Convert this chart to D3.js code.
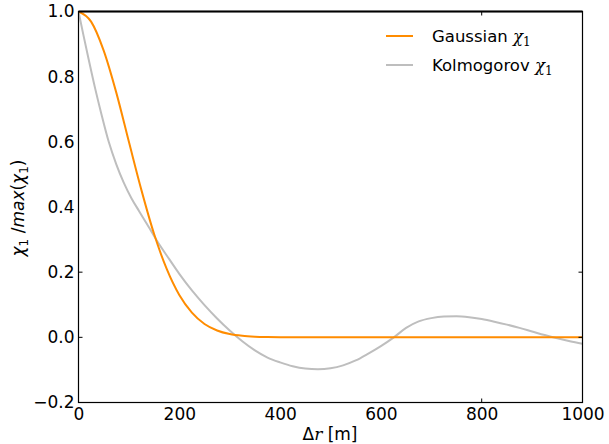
<!DOCTYPE html>
<html><head><meta charset="utf-8">
<script src="https://cdn.jsdelivr.net/npm/d3@7"></script>
<style>body{margin:0;background:#fff}svg{display:block}text{font-family:"DejaVu Sans",sans-serif}</style>
</head><body><svg id="c" width="609" height="444"></svg>
<script>
const xTicks = [0, 200, 400, 600, 800, 1000];
const yTicks = [-0.2, 0.0, 0.2, 0.4, 0.6, 0.8, 1.0];
const gaussR = [0,25,50,75,100,125,150,175,200,225,250,275,300,325,350,375,400,450,500,600,700,800,900,1000];
const gaussV = [1.0,0.969,0.880,0.751,0.600,0.451,0.317,0.210,0.130,0.076,0.041,0.021,0.010,0.0045,0.0019,0.0008,0.0003,0,0,0,0,0,0,0];
const kolR = [0,10,20,33,45,60,75,90,105,120,140,155,180,200,225,250,275,300,325,350,375,400,425,450,475,500,525,550,575,600,625,650,675,700,725,750,775,800,825,850,875,900,925,950,975,1000];
const kolV = [1.0,0.926,0.854,0.764,0.688,0.600,0.531,0.474,0.427,0.388,0.337,0.298,0.240,0.195,0.144,0.099,0.058,0.021,-0.012,-0.040,-0.062,-0.077,-0.089,-0.096,-0.098,-0.095,-0.086,-0.071,-0.050,-0.027,-0.001,0.029,0.049,0.059,0.064,0.065,0.062,0.056,0.048,0.039,0.029,0.018,0.007,-0.003,-0.012,-0.020];
const seriesNames = ["Gaussian ", "Kolmogorov "];
const colors = ["#ff8c00", "#bebebe"];

const L = 78.5, R = 582.5, T = 11.5, B = 402.5;
const svg = d3.select("#c");
const x = d3.scaleLinear().domain([0, 1000]).range([L, R]);
const y = d3.scaleLinear().domain([-0.2, 1.0]).range([B, T]);

svg.append("clipPath").attr("id","cp").append("rect")
  .attr("x", L).attr("y", T).attr("width", R-L).attr("height", B-T);

const line = d3.line().x(d => x(d[0])).y(d => y(d[1])).curve(d3.curveMonotoneX);
const g = svg.append("g").attr("clip-path","url(#cp)");
g.append("path").datum(kolR.map((r,i)=>[r,kolV[i]])).attr("d", line)
  .attr("fill","none").attr("stroke",colors[1]).attr("stroke-width",2);
g.append("path").datum(gaussR.map((r,i)=>[r,gaussV[i]])).attr("d", line)
  .attr("fill","none").attr("stroke",colors[0]).attr("stroke-width",2);

// frame
svg.append("rect").attr("x",L).attr("y",T).attr("width",R-L).attr("height",B-T)
  .attr("fill","none").attr("stroke","#000").attr("stroke-width",1.2);
svg.append("line").attr("x1",L).attr("x2",R).attr("y1",T).attr("y2",T)
  .attr("stroke","#000").attr("stroke-width",2);

// axes (labels)
const xAxis = svg.append("g").attr("transform",`translate(0,${B})`)
  .call(d3.axisBottom(x).tickValues(xTicks).tickSize(0).tickPadding(5).tickFormat(d3.format("d")));
const yAxis = svg.append("g").attr("transform",`translate(${L},0)`)
  .call(d3.axisLeft(y).tickValues(yTicks).tickSize(0).tickPadding(4).tickFormat(d => d < 0 ? "\u2212" + Math.abs(d).toFixed(1) : d.toFixed(1)));
[xAxis, yAxis].forEach(a => {
  a.select(".domain").remove();
  a.selectAll("text").attr("font-size", 17).attr("font-family","DejaVu Sans").attr("fill","#000");
});
// inward tick marks visible in reference
const tickXs = [800];
const tickYs = [0.0, 0.2];
tickXs.forEach(v => {
  svg.append("line").attr("x1",x(v)).attr("x2",x(v)).attr("y1",B).attr("y2",B-4).attr("stroke","#000");
  svg.append("line").attr("x1",x(v)).attr("x2",x(v)).attr("y1",T).attr("y2",T+4).attr("stroke","#000");
});
tickYs.forEach(v => {
  svg.append("line").attr("x1",L).attr("x2",L+4).attr("y1",y(v)).attr("y2",y(v)).attr("stroke","#000");
  svg.append("line").attr("x1",R).attr("x2",R-4).attr("y1",y(v)).attr("y2",y(v)).attr("stroke","#000");
});

// x label
const xl = svg.append("text").attr("x", 330).attr("y", 440).attr("text-anchor","middle").attr("font-size",17);
xl.append("tspan").text("\u0394");
xl.append("tspan").attr("font-family","DejaVu Serif").attr("font-style","italic").text("r");
xl.append("tspan").text(" [m]");

// y label
const yl = svg.append("text").attr("transform","translate(24,208) rotate(-90)")
  .attr("text-anchor","middle").attr("font-size",17).attr("font-family","DejaVu Serif");
yl.append("tspan").attr("font-style","italic").text("\u03c7");
yl.append("tspan").attr("font-size",12).attr("dy",4).text("1");
yl.append("tspan").attr("dy",-4).text(" /");
yl.append("tspan").attr("font-style","italic").text("max");
yl.append("tspan").text("(");
yl.append("tspan").attr("font-style","italic").text("\u03c7");
yl.append("tspan").attr("font-size",12).attr("dy",4).text("1");
yl.append("tspan").attr("dy",-4).text(")");

// legend
const legY = [36, 65];
seriesNames.forEach((n,i) => {
  svg.append("line").attr("x1",386).attr("x2",413).attr("y1",legY[i]).attr("y2",legY[i])
    .attr("stroke",colors[i]).attr("stroke-width",2);
  const t = svg.append("text").attr("x",432).attr("y",legY[i]+6).attr("font-size",16.5);
  t.append("tspan").text(n);
  t.append("tspan").attr("font-family","DejaVu Serif").attr("font-style","italic").text("\u03c7");
  t.append("tspan").attr("font-family","DejaVu Serif").attr("font-size",12).attr("dy",4).text("1");
});
</script></body></html>
